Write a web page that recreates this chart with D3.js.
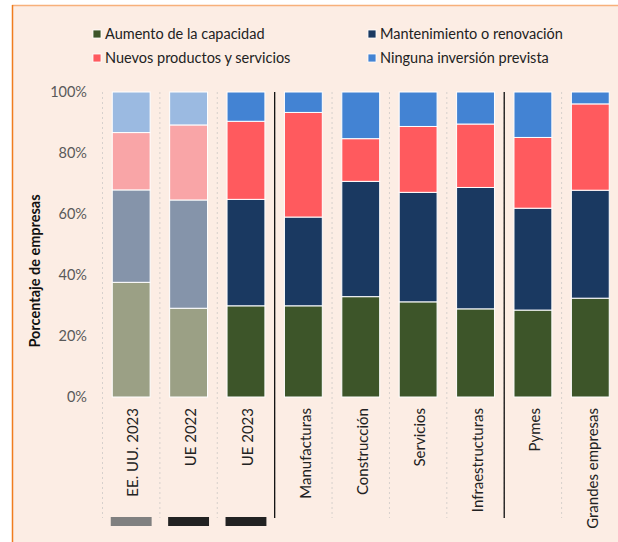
<!DOCTYPE html>
<meta charset="utf-8">
<head>
    <title>Inversión prevista</title>
</head>
<style>
    body { margin: 0; background: #fff; }
    text { font-family: Lato, "Open Sans", sans-serif; }
    .grid line { stroke: #d6d0cc; stroke-dasharray: 2,3; }
    .sep { stroke: #111; stroke-width: 1.3px; }
</style>
<body>
<script src="https://cdnjs.cloudflare.com/ajax/libs/d3/7.8.5/d3.min.js"></script>
<script>
    // datos (porcentaje de empresas)
    var categorias = ["EE. UU. 2023", "UE 2022", "UE 2023", "Manufacturas", "Construcción",
        "Servicios", "Infraestructuras", "Pymes", "Grandes empresas"];
    var aumento = [37.6, 29.1, 29.9, 29.9, 32.9, 31.2, 28.9, 28.5, 32.4];
    var mantenimiento = [30.3, 35.5, 34.9, 29.1, 37.8, 35.9, 39.8, 33.4, 35.4];
    var nuevos = [18.8, 24.6, 25.6, 34.3, 14.0, 21.6, 20.8, 23.2, 28.3];
    var ninguna = [13.3, 10.8, 9.6, 6.7, 15.3, 11.3, 10.5, 14.9, 3.9];
    var series = ["Aumento de la capacidad", "Mantenimiento o renovación",
        "Nuevos productos y servicios", "Ninguna inversión prevista"];
    var yTicks = [0, 20, 40, 60, 80, 100];
    var atenuadas = ["EE. UU. 2023", "UE 2022"];
    var muestras = ["#808080", "#222222", "#222222"];
    var separadores = [3, 7];

    var colores = ["#3d5529", "#1a3961", "#ff5a5e", "#4383d3"];
    var coloresClaros = ["#9ba085", "#8594aa", "#f9a5a7", "#9bbae1"];

    var width = 618, height = 542;
    var svg = d3.select("body").append("svg")
        .attr("width", width)
        .attr("height", height);

    // marco
    svg.append("rect").attr("x", 12).attr("y", 5).attr("width", width).attr("height", height)
        .attr("fill", "#fcede4");
    svg.append("line").attr("x1", 12).attr("x2", width).attr("y1", 5.5).attr("y2", 5.5)
        .attr("stroke", "#f7b07a").attr("stroke-width", 1.5);
    svg.append("line").attr("x1", 12.5).attr("x2", 12.5).attr("y1", 5).attr("y2", height)
        .attr("stroke", "#f07c1e").attr("stroke-width", 1.5);

    var x = d3.scaleBand().domain(categorias).range([102.5, 619])
        .paddingInner(0.34).paddingOuter(0.17);
    var y = d3.scaleLinear().domain([0, 100]).range([397, 92]);

    var tabla = categorias.map(function (c, i) {
        return { cat: c, v: [aumento[i], mantenimiento[i], nuevos[i], ninguna[i]] };
    });
    var stack = d3.stack().keys([0, 1, 2, 3]).value(function (d, k) { return d.v[k]; });
    var capas = stack(tabla);

    // lineas punteadas entre barras
    var paso = x.step();
    var bordes = d3.range(categorias.length + 1).map(function (i) { return x.range()[0] + i * paso; });
    svg.append("g").attr("class", "grid").selectAll("line")
        .data(bordes).enter().append("line")
        .attr("x1", function (d) { return d; }).attr("x2", function (d) { return d; })
        .attr("y1", 92).attr("y2", 518);

    // barras
    svg.selectAll("g.capa").data(capas).enter().append("g").attr("class", "capa")
        .selectAll("rect").data(function (d) { return d.map(function (p) { p.k = d.key; return p; }); })
        .enter().append("rect")
        .attr("x", function (d) { return x(d.data.cat); })
        .attr("width", x.bandwidth())
        .attr("y", function (d) { return y(d[1]); })
        .attr("height", function (d) { return y(d[0]) - y(d[1]); })
        .attr("fill", function (d) {
            return atenuadas.indexOf(d.data.cat) >= 0 ? coloresClaros[d.k] : colores[d.k];
        })
        .attr("stroke", "#fff").attr("stroke-width", 1);

    // separadores
    svg.selectAll("line.sep").data(separadores).enter().append("line").attr("class", "sep")
        .attr("x1", function (d) { return bordes[d]; }).attr("x2", function (d) { return bordes[d]; })
        .attr("y1", 92).attr("y2", 518);

    // eje y
    var ejeY = svg.append("g").attr("transform", "translate(87,0)")
        .call(d3.axisLeft(y).tickValues(yTicks).tickSize(0).tickPadding(0)
            .tickFormat(function (d) { return d + "%"; }));
    ejeY.select(".domain").remove();
    ejeY.selectAll("text").attr("font-size", 14.5).attr("fill", "#595959")
        .style("font-family", "Lato, sans-serif");

    svg.append("text")
        .attr("transform", "translate(35,271) rotate(-90)")
        .attr("text-anchor", "middle").attr("dy", "0.35em")
        .attr("font-size", 14.5).attr("font-weight", "bold").attr("fill", "#111")
        .text("Porcentaje de empresas");

    // etiquetas x
    svg.selectAll("text.cat").data(categorias).enter().append("text").attr("class", "cat")
        .attr("transform", function (d) {
            return "translate(" + (x(d) + x.bandwidth() / 2 + 2) + ",408) rotate(-90)";
        })
        .attr("text-anchor", "end").attr("dy", "0.35em")
        .attr("font-size", 15).attr("fill", "#222")
        .text(function (d) { return d; });

    // muestras bajo las barras
    svg.selectAll("rect.muestra").data(muestras).enter().append("rect").attr("class", "muestra")
        .attr("x", function (d, i) { return x(categorias[i]) - 1.5; })
        .attr("width", x.bandwidth() + 3)
        .attr("y", 517).attr("height", 9)
        .attr("fill", function (d) { return d; });

    // leyenda
    var posLeyenda = [[93, 34], [368, 34], [93, 58], [368, 58]];
    var orden = [0, 1, 2, 3];
    var ley = svg.selectAll("g.ley").data(orden).enter().append("g").attr("class", "ley")
        .attr("transform", function (d, i) { return "translate(" + posLeyenda[i][0] + "," + posLeyenda[i][1] + ")"; });
    ley.append("rect").attr("x", 0).attr("y", -4).attr("width", 8).attr("height", 8)
        .attr("fill", function (d) { return colores[d]; })
        .attr("stroke", "#fff").attr("stroke-width", 0.8);
    ley.append("text").attr("x", 12).attr("dy", "0.35em")
        .attr("font-size", 14.5).attr("fill", "#222")
        .text(function (d) { return series[d]; });
</script>
</body>
</html>
